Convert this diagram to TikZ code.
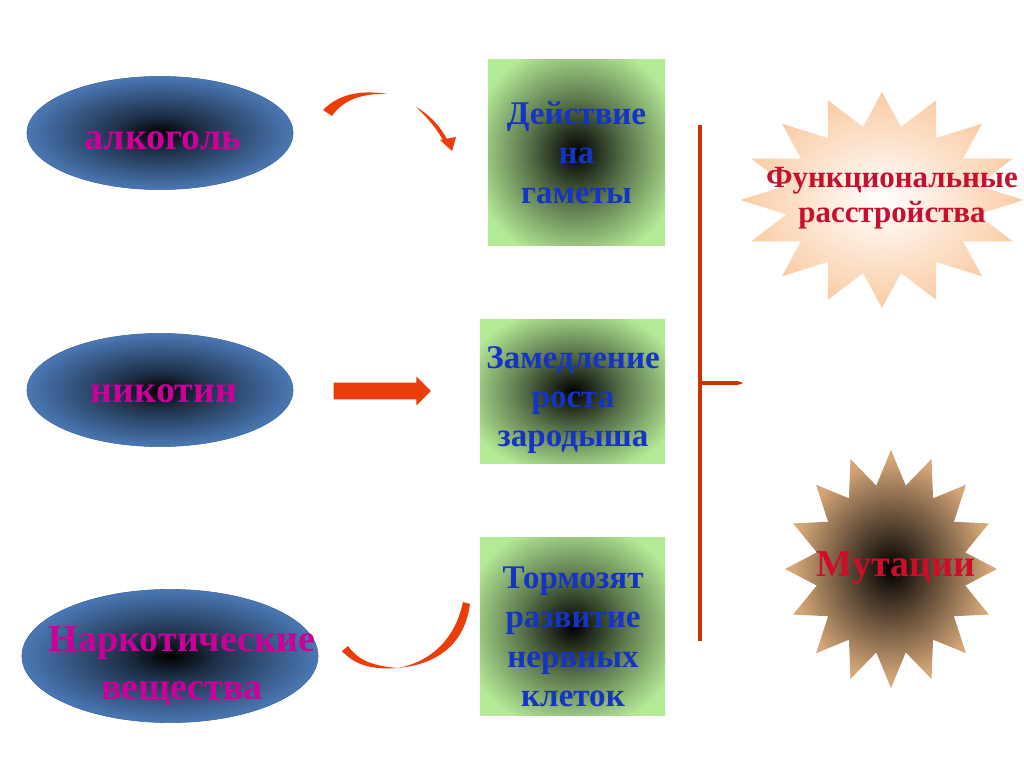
\documentclass[tikz,border=0pt]{standalone}
\usepackage{fontspec}
\setmainfont{Liberation Serif}
\usetikzlibrary{shapes.geometric,shapes.arrows,arrows.meta}

\definecolor{ellblue}{RGB}{74,120,180}
\definecolor{boxgreen}{RGB}{180,234,150}
\definecolor{peach}{RGB}{250,204,164}
\definecolor{startan}{RGB}{212,166,120}
\definecolor{textpink}{RGB}{204,0,153}
\definecolor{textblue}{RGB}{22,52,196}
\definecolor{textred}{RGB}{200,16,46}
\definecolor{arrowred}{RGB}{236,60,10}
\definecolor{bracketred}{RGB}{204,51,0}

\pgfdeclareradialshading{ellshade}{\pgfpoint{0bp}{0bp}}{color(0bp)=(black); color(8bp)=(ellblue!40!black); color(25bp)=(ellblue); color(50bp)=(ellblue)}
\pgfdeclareradialshading{boxshade}{\pgfpoint{0bp}{0bp}}{color(0bp)=(black); color(14bp)=(boxgreen!50!black); color(30bp)=(boxgreen); color(50bp)=(boxgreen)}
\pgfdeclareradialshading{funcshade}{\pgfpoint{0bp}{0bp}}{color(0bp)=(white); color(25bp)=(peach); color(50bp)=(peach)}
\pgfdeclareradialshading{mutshade}{\pgfpoint{0bp}{0bp}}{color(0bp)=(black); color(23bp)=(startan); color(50bp)=(startan)}

\begin{document}
\begin{tikzpicture}[x=0.025cm, y=-0.025cm,
	ell/.style={ellipse, shade, shading=ellshade, draw=ellblue!85!black, line width=0.4pt},
	elltext/.style={text=textpink, font=\bfseries\fontsize{27}{34}\selectfont, align=center},
	box/.style={rectangle, shade, shading=boxshade, inner sep=0pt, text=textblue,
		font=\bfseries\fontsize{23.5}{28}\selectfont, align=center},
	starshape/.style={star, star points=16, inner sep=0pt}]
	\useasboundingbox (0,0) rectangle (1024,767);
	% Substances
	\node (alco) [ell, minimum width=6.65cm, minimum height=2.83cm] at (160,133) {};
	\node (nico) [ell, minimum width=6.65cm, minimum height=2.83cm] at (160,390) {};
	\node (narc) [ell, minimum width=7.4cm, minimum height=3.33cm] at (170,656) {};
	\node (alcotext) [elltext] at (163,141) {алкоголь};
	\node (nicotext) [elltext] at (164,394) {никотин};
	\node (narctext) [elltext] at (182,666) {Наркотические\\вещества};
	% Effects
	\node (gamet) [box, minimum width=4.43cm, minimum height=4.63cm] at (576.5,152.5) {Действие\\на\\гаметы};
	\node (growth) [box, minimum width=4.63cm, minimum height=3.58cm] at (572.5,391.5) {};
	\node (nerve) [box, minimum width=4.63cm, minimum height=4.43cm] at (572.5,626.5) {};
	\node (growthtext) [text=textblue, font=\bfseries\fontsize{23.5}{28}\selectfont, align=center]
		at (573,400) {Замедление\\роста\\зародыша};
	\node (nervetext) [text=textblue, font=\bfseries\fontsize{23.5}{28}\selectfont, align=center]
		at (573,637) {Тормозят\\развитие\\нервных\\клеток};
	% Results
	\node (funcstar) [starshape, star point ratio=1.45, shade, shading=funcshade, minimum size=5.4cm, xscale=1.31] at (882,200) {};
	\node (mutstar) [starshape, star point ratio=1.4, shade, shading=mutshade, minimum size=5.95cm, xscale=0.89] at (891,569) {};
	\node (functext) [text=textred, font=\bfseries\fontsize{22}{25}\selectfont, align=center] at (892,198) {Функциональные\\расстройства};
	\node (muttext) [text=textred!90!red, font=\bfseries\fontsize{27}{32}\selectfont] at (896,568) {Мутации};
	% Arrows
	\node (smokearr) [single arrow, fill=arrowred, inner sep=0.2cm, minimum height=2.43cm,
		single arrow head extend=0.15cm] at (378,391) {};
	\fill [arrowred] (323,110) .. controls (340,93) and (362,90) .. (388,94)
		.. controls (362,93) and (343,100) .. (332,116) -- cycle;
	\fill [arrowred] (416,107) .. controls (430,115) and (441,127) .. (448,141)
		-- (444,142) .. controls (437,129) and (428,118) .. cycle;
	\fill [arrowred] (440,140) -- (456,137) -- (452,151) -- cycle;
	\fill [arrowred] (342,651) .. controls (355,665) and (372,670) .. (398,668)
		.. controls (372,666) and (358,660) .. (348,646) -- cycle;
	\fill [arrowred] (398,668) .. controls (430,662) and (455,640) .. (463,602)
		-- (470,604) .. controls (465,642) and (440,664) .. cycle;
	% Bracket
	\coordinate (brtop) at (700,125);
	\coordinate (brbot) at (700,641);
	\coordinate (brmid) at (700,383);
	\coordinate (brtip) at (745,383);
	\draw [bracketred, line width=3pt] (brtop) -- (brbot);
	\draw [bracketred, line width=2.6pt, -{Triangle[length=6pt,width=2.6pt]}] (brmid) -- (brtip);
\end{tikzpicture}
\end{document}
